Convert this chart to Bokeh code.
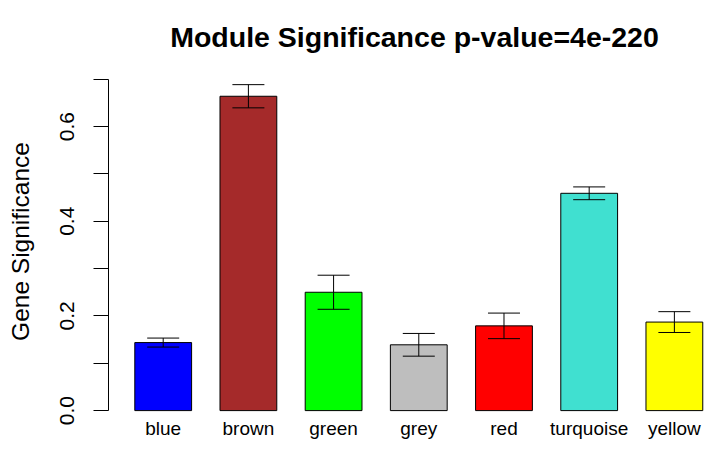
import numpy as np
from bokeh.plotting import figure
from bokeh.models import ColumnDataSource, FixedTicker, Whisker, TeeHead, Range1d
from bokeh.embed import file_html
from bokeh.resources import INLINE

# ---- data ----
modules = ["blue", "brown", "green", "grey", "red", "turquoise", "yellow"]
bar_colors = ["#0000FF", "#A52A2A", "#00FF00", "#BEBEBE", "#FF0000", "#40E0D0", "#FFFF00"]
gene_sig = [0.1437, 0.664, 0.250, 0.139, 0.179, 0.459, 0.187]
std_err = [0.0095, 0.0245, 0.036, 0.024, 0.027, 0.0135, 0.022]
y_ticks = [0.0, 0.2, 0.4, 0.6]
y_tick_labels = ["0.0", "0.2", "0.4", "0.6"]
y_minor_ticks = [0.1, 0.3, 0.5, 0.7]
title_text = "Module Significance p-value=4e-220"
y_label = "Gene Significance"

# R barplot layout: width 1, space 0.5
bar_width = 1.0
space = 0.5
idx = np.arange(len(modules))
xs = space + bar_width / 2 + idx * (bar_width + space)

src = ColumnDataSource(dict(
    x=xs, top=gene_sig, color=bar_colors,
    upper=np.array(gene_sig) + np.array(std_err),
    lower=np.array(gene_sig) - np.array(std_err),
))

FONT = "Liberation Sans"

p = figure(width=720, height=461, output_backend="svg", toolbar_location=None,
           x_range=Range1d(0.037, 10.812), y_range=Range1d(-0.004, 0.7184),
           min_border_left=108, min_border_right=0, min_border_top=70, min_border_bottom=49)
p.outline_line_color = None
p.xgrid.visible = False
p.ygrid.visible = False

p.vbar(x="x", top="top", bottom=0, width=bar_width, fill_color="color",
       line_color="black", line_width=1, source=src)

wh = Whisker(source=src, base="x", upper="upper", lower="lower",
             line_color="black", line_width=1, level="overlay",
             upper_head=TeeHead(size=32, line_color="black", line_width=1),
             lower_head=TeeHead(size=32, line_color="black", line_width=1))
p.add_layout(wh)

# title
p.title.text = title_text
p.title.text_font = FONT
p.title.text_font_size = "28.5px"
p.title.text_font_style = "bold"
p.title.text_color = "black"
p.title.align = "center"
p.title.standoff = 35

# y axis
ya = p.yaxis[0]
ya.ticker = FixedTicker(ticks=y_ticks, minor_ticks=y_minor_ticks)
ya.major_label_overrides = {t: l for t, l in zip(y_ticks, y_tick_labels)}
ya.bounds = (0, 0.7)
ya.axis_line_color = "black"
ya.major_tick_out = 15
ya.major_tick_in = 0
ya.minor_tick_out = 15
ya.minor_tick_in = 0
ya.minor_tick_line_color = "black"
ya.major_label_orientation = "vertical"
ya.major_label_text_font = FONT
ya.major_label_text_font_size = "21px"
ya.major_label_text_color = "black"
ya.major_label_standoff = 19
ya.axis_label = y_label
ya.axis_label_text_font = FONT
ya.axis_label_text_font_size = "24.5px"
ya.axis_label_text_font_style = "normal"
ya.axis_label_text_color = "black"
ya.axis_label_standoff = 24

# x axis (category names under bars)
xa = p.xaxis[0]
xa.ticker = FixedTicker(ticks=list(xs))
xa.major_label_overrides = {float(x): m for x, m in zip(xs, modules)}
xa.axis_line_color = None
xa.major_tick_line_color = None
xa.minor_tick_line_color = None
xa.major_label_text_font = FONT
xa.major_label_text_font_size = "19px"
xa.major_label_text_color = "black"
xa.major_label_standoff = -1

open("out.html", "w").write(file_html(p, INLINE))
